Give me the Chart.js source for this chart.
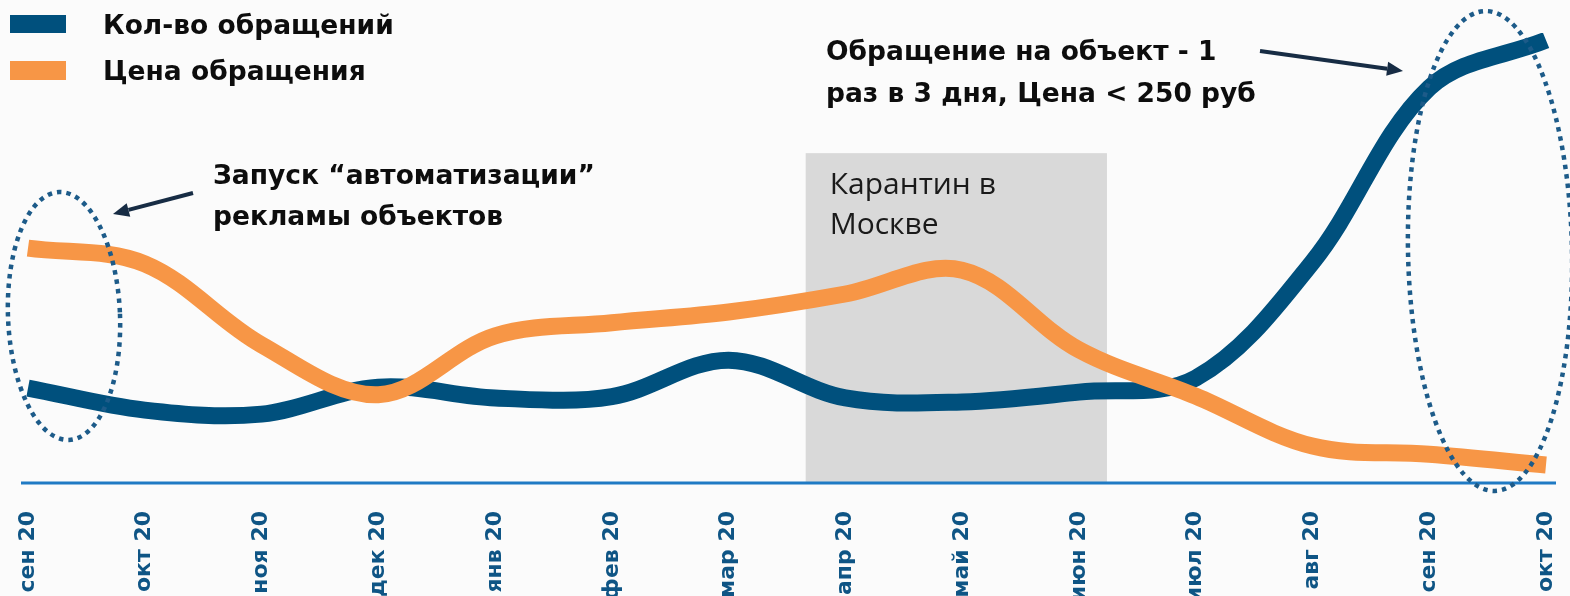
<!DOCTYPE html>
<html>
<head>
<meta charset="utf-8">
<script src="https://cdn.jsdelivr.net/npm/chart.js@4.4.0/dist/chart.umd.min.js"></script>
<style>
  html, body { margin: 0; padding: 0; background: #fbfbfb; overflow: hidden; }
  #wrap { width: 1570px; height: 596px; }
</style>
</head>
<body>
<div id="wrap"><canvas id="chart"></canvas></div>
<script>
// months on the x axis
const labels = ['сен 20', 'окт 20', 'ноя 20', 'дек 20', 'янв 20', 'фев 20', 'мар 20',
  'апр 20', 'май 20', 'июн 20', 'июл 20', 'авг 20', 'сен 20', 'окт 20'];

// series (relative units)
const requests = [21.1, 16.2, 15.3, 21.3, 18.9, 19.2, 27.3, 18.9, 18.0, 20.2, 23.3, 49.1, 87.8, 98.4];
const price = [52.2, 48.7, 30.7, 19.6, 32.7, 35.6, 38.0, 42.0, 47.3, 29.6, 19.3, 8.2, 6.4, 4.0];

// quarantine period, in category index units
const quarantineFrom = 6.66;
const quarantineTo = 9.24;
const quarantineTop = 73.3;

const blue = '#00507d';
const orange = '#f79646';
const boldFont = 'bold 26.5px "DejaVu Sans"';

function arrow(ctx, x1, y1, x2, y2) {
  const a = Math.atan2(y2 - y1, x2 - x1);
  const head = 16, w = 7;
  ctx.save();
  ctx.strokeStyle = '#172c44';
  ctx.fillStyle = '#172c44';
  ctx.lineWidth = 4;
  ctx.beginPath();
  ctx.moveTo(x1, y1);
  ctx.lineTo(x2 - Math.cos(a) * head, y2 - Math.sin(a) * head);
  ctx.stroke();
  ctx.beginPath();
  ctx.moveTo(x2, y2);
  ctx.lineTo(x2 - Math.cos(a) * head - Math.sin(a) * w, y2 - Math.sin(a) * head + Math.cos(a) * w);
  ctx.lineTo(x2 - Math.cos(a) * head + Math.sin(a) * w, y2 - Math.sin(a) * head - Math.cos(a) * w);
  ctx.closePath();
  ctx.fill();
  ctx.restore();
}

function dottedEllipse(ctx, cx, cy, rx, ry, rot) {
  ctx.save();
  ctx.strokeStyle = '#1d5b89';
  ctx.lineWidth = 4.5;
  ctx.setLineDash([4.5, 5]);
  ctx.beginPath();
  ctx.ellipse(cx, cy, rx, ry, rot, 0, Math.PI * 2);
  ctx.stroke();
  ctx.restore();
}

const decor = {
  id: 'decor',
  beforeDraw(chart) {
    const ctx = chart.ctx;
    ctx.save();
    ctx.fillStyle = '#fbfbfb';
    ctx.fillRect(0, 0, chart.width, chart.height);
    ctx.restore();
  },
  beforeDatasetsDraw(chart) {
    const { ctx, scales: { x, y } } = chart;
    const x1 = x.getPixelForValue(quarantineFrom);
    const x2 = x.getPixelForValue(quarantineTo);
    const top = y.getPixelForValue(quarantineTop);
    ctx.save();
    ctx.fillStyle = '#d9d9d9';
    ctx.fillRect(x1, top, x2 - x1, y.bottom - top);
    ctx.fillStyle = '#1a1a1a';
    ctx.font = '30px "Open Sans"';
    ctx.textBaseline = 'alphabetic';
    ctx.fillText('Карантин в', x1 + 24, top + 41);
    ctx.fillText('Москве', x1 + 24, top + 81);
    ctx.restore();
  },
  afterDraw(chart) {
    const { ctx, scales: { y } } = chart;
    ctx.save();
    // axis line
    ctx.strokeStyle = '#1f7ac4';
    ctx.lineWidth = 3;
    ctx.beginPath();
    ctx.moveTo(21, y.bottom);
    ctx.lineTo(1556, y.bottom);
    ctx.stroke();

    // legend
    ctx.fillStyle = blue;
    ctx.fillRect(10, 15, 56, 18);
    ctx.fillStyle = orange;
    ctx.fillRect(10, 61, 56, 19);
    ctx.fillStyle = '#0d0d0d';
    ctx.font = boldFont;
    ctx.textBaseline = 'alphabetic';
    ctx.fillText('Кол-во обращений', 103, 34);
    ctx.fillText('Цена обращения', 103, 80);

    // annotations
    ctx.fillText('Запуск “автоматизации”', 213, 184);
    ctx.fillText('рекламы объектов', 213, 225);
    ctx.fillText('Обращение на объект - 1', 826, 60);
    ctx.fillText('раз в 3 дня, Цена < 250 руб', 826, 102);
    ctx.restore();

    arrow(ctx, 193, 193, 113, 214);
    arrow(ctx, 1260, 51, 1403, 71);

    dottedEllipse(ctx, 64, 316, 56, 124, -0.04);
    dottedEllipse(ctx, 1490, 251, 82, 240, -0.02);
  }
};

new Chart(document.getElementById('chart'), {
  type: 'line',
  data: {
    labels: labels,
    datasets: [
      {
        label: 'Цена обращения',
        data: price,
        borderColor: orange,
        borderWidth: 17,
        borderCapStyle: 'butt',
        borderJoinStyle: 'round',
        tension: 0.35,
        pointRadius: 0,
        fill: false,
      },
      {
        label: 'Кол-во обращений',
        data: requests,
        borderColor: blue,
        borderWidth: 17,
        borderCapStyle: 'butt',
        borderJoinStyle: 'round',
        tension: 0.35,
        pointRadius: 0,
        fill: false,
      },
    ],
  },
  options: {
    responsive: true,
    maintainAspectRatio: false,
    animation: false,
    layout: { padding: { top: 33, left: 28, right: 24, bottom: 0 } },
    plugins: {
      legend: { display: false },
      tooltip: { enabled: false },
    },
    scales: {
      x: {
        offset: false,
        grid: { display: false },
        border: { display: false },
        ticks: {
          autoSkip: false,
          minRotation: 90,
          maxRotation: 90,
          padding: 20,
          color: '#0f5585',
          font: { family: 'DejaVu Sans', weight: 'bold', size: 22 },
        },
        afterFit(scale) {
          scale.height = 113;
          scale.paddingLeft = 0;
          scale.paddingRight = 0;
        },
      },
      y: {
        display: false,
        min: 0,
        max: 100,
      },
    },
  },
  plugins: [decor],
});
</script>
</body>
</html>
